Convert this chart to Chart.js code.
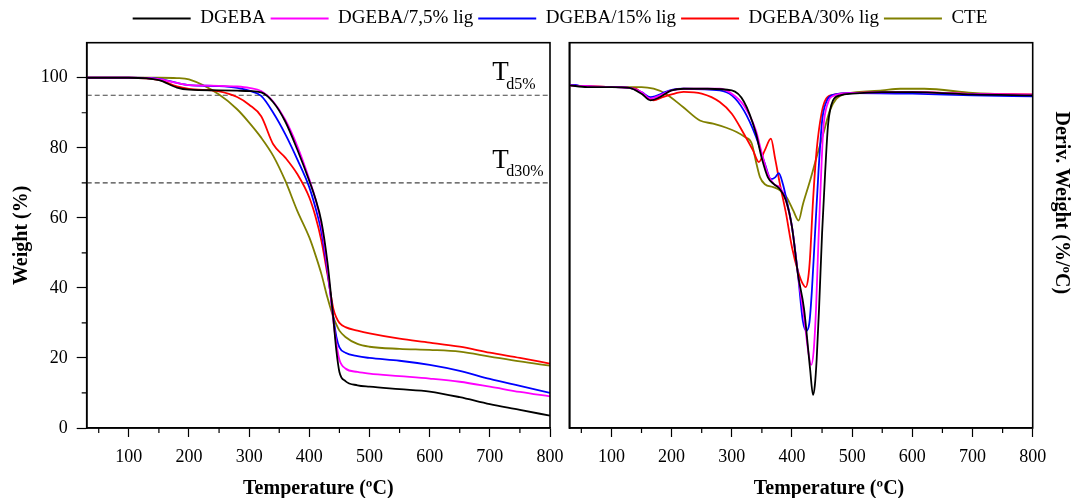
<!DOCTYPE html>
<html>
<head>
<meta charset="utf-8">
<script src="https://cdn.jsdelivr.net/npm/chart.js@4.4.1/dist/chart.umd.min.js"></script>
<style>
  html, body { margin: 0; padding: 0; background: #fff; }
  #wrap { position: relative; width: 1073px; height: 498px; overflow: hidden; }
  #tgaBox { position: absolute; left: 0; top: 0; }
  #dtgBox { position: absolute; left: 555px; top: 0; }
</style>
</head>
<body>
<div id="wrap">
  <div id="tgaBox"><canvas id="tgaChart" width="1120" height="498"></canvas></div>
  <div id="dtgBox"><canvas id="dtgChart" width="518" height="498"></canvas></div>
</div>
<script>
const FONT = "'Liberation Serif', 'Times New Roman', serif";

const seriesNames = ['DGEBA', 'DGEBA/7,5% lig', 'DGEBA/15% lig', 'DGEBA/30% lig', 'CTE'];
const seriesColors = ['#000000', '#ff00ff', '#0000ff', '#ff0000', '#808000'];

// TGA - peso (%) vs temperatura
const tgaTemp  = [30, 100, 150, 180, 200, 250, 280, 300, 320, 340, 360, 380, 400, 410, 420, 430, 440, 445, 450, 460, 480, 500, 550, 600, 650, 700, 750, 800];
const tgaDGEBA = [100, 100, 99.3, 97.2, 96.6, 96.4, 96.3, 96.2, 95.8, 93, 87.5, 79.5, 70.5, 65.5, 59, 47.5, 31, 22, 16, 13.4, 12.2, 11.8, 11.1, 10.4, 8.8, 6.8, 5.2, 3.5];
const tgaLig75 = [100, 100, 99.6, 98.5, 97.9, 97.7, 97.5, 97.1, 96.2, 93.2, 88, 80.5, 71, 65.5, 58, 46, 30.5, 24, 19.5, 17, 16, 15.5, 14.8, 14.1, 13.2, 11.8, 10.3, 9.0];
const tgaLig15 = [100, 100, 99.7, 98.5, 97.9, 97.6, 97.1, 96.3, 94.8, 90, 83.9, 76.7, 68.7, 63, 56, 45, 31.6, 26, 23, 21.5, 20.5, 20, 19.2, 18, 16.3, 14, 12, 10];
const tgaLig30 = [100, 100, 99.4, 97.5, 96.8, 96.1, 94.5, 92.3, 89, 81, 77.2, 72.5, 65.8, 60.5, 53.5, 44, 34, 31.5, 30, 28.8, 27.8, 27, 25.5, 24.4, 23.2, 21.5, 20, 18.4];
const tgaCTE   = [100, 100, 100, 99.9, 99.5, 95.2, 91, 87.2, 82.9, 77.7, 70.6, 62, 54.4, 49.5, 44, 37.3, 31.6, 29.5, 27.8, 26, 24, 23.2, 22.6, 22.3, 21.8, 20.4, 19, 17.8];

// DTG - derivada (%/ºC), cada serie com as suas temperaturas
const dtgTempDGEBA = [30, 60, 100, 130, 150, 165, 180, 200, 220, 260, 300, 320, 340, 350, 360, 370, 380, 390, 400, 410, 420, 430, 435, 438, 441, 445, 450, 455, 460, 468, 480, 500, 550, 600, 700, 800];
const dtgDGEBA     = [0.01, 0, 0, -0.005, -0.04, -0.078, -0.06, -0.02, -0.01, -0.01, -0.02, -0.085, -0.27, -0.42, -0.53, -0.57, -0.6, -0.665, -0.82, -1.1, -1.3, -1.65, -1.806, -1.75, -1.6, -1.3, -0.86, -0.51, -0.22, -0.08, -0.049, -0.039, -0.03, -0.03, -0.043, -0.049];
const dtgTempLig75 = [30, 100, 130, 150, 165, 180, 200, 220, 280, 300, 320, 340, 350, 360, 370, 380, 390, 400, 410, 420, 427, 432, 436, 440, 444, 448, 452, 460, 470, 480, 500, 600, 700, 800];
const dtgLig75     = [0.01, 0, -0.005, -0.03, -0.068, -0.05, -0.02, -0.01, -0.01, -0.039, -0.108, -0.254, -0.39, -0.51, -0.57, -0.59, -0.665, -0.82, -1.1, -1.35, -1.55, -1.63, -1.55, -1.3, -0.9, -0.55, -0.25, -0.09, -0.05, -0.04, -0.035, -0.03, -0.04, -0.045];
const dtgTempLig15 = [30, 40, 50, 100, 130, 150, 165, 190, 200, 220, 280, 300, 320, 340, 355, 365, 372, 378, 385, 390, 400, 410, 418, 424, 429, 433, 438, 444, 450, 458, 470, 500, 600, 700, 800];
const dtgLig15     = [0.01, 0.012, 0.005, 0, -0.005, -0.03, -0.059, -0.029, -0.016, -0.01, -0.02, -0.049, -0.137, -0.29, -0.45, -0.54, -0.53, -0.505, -0.57, -0.645, -0.82, -1.1, -1.37, -1.43, -1.38, -1.2, -0.88, -0.5, -0.2, -0.08, -0.045, -0.035, -0.039, -0.049, -0.055];
const dtgTempLig30 = [30, 100, 140, 155, 170, 185, 200, 220, 250, 280, 300, 320, 335, 345, 355, 365, 372, 380, 390, 400, 410, 418, 423, 427, 430, 435, 441, 449, 457, 470, 500, 600, 700, 800];
const dtgLig30     = [0.01, 0, -0.01, -0.05, -0.078, -0.06, -0.043, -0.029, -0.039, -0.088, -0.157, -0.274, -0.37, -0.44, -0.37, -0.303, -0.42, -0.57, -0.74, -0.94, -1.08, -1.155, -1.174, -1.12, -1.0, -0.665, -0.37, -0.157, -0.068, -0.045, -0.035, -0.03, -0.04, -0.043];
const dtgTempCTE   = [30, 100, 150, 170, 190, 219, 247, 269, 291, 308, 322, 333, 341, 347, 355, 369, 380, 391, 402, 411, 418, 430, 441, 452, 463, 474, 490, 550, 580, 620, 700, 800];
const dtgCTE       = [0.01, 0, 0, -0.01, -0.039, -0.117, -0.196, -0.215, -0.239, -0.264, -0.294, -0.33, -0.45, -0.53, -0.57, -0.587, -0.606, -0.646, -0.724, -0.783, -0.69, -0.55, -0.41, -0.274, -0.137, -0.068, -0.04, -0.02, -0.01, -0.01, -0.035, -0.049];

// linhas Td5% e Td30%
const tdLevels = [95, 70];
const tdNames = ['d5%', 'd30%'];

const tempTicks = [100, 200, 300, 400, 500, 600, 700, 800];
const tempMinorTicks = [50, 150, 250, 350, 450, 550, 650, 750];
const weightTicks = [0, 20, 40, 60, 80, 100];
const weightMinorTicks = [10, 30, 50, 70, 90];

Chart.defaults.font.family = FONT;
Chart.defaults.color = '#000';

function toPoints(xs, ys) {
    return xs.map((x, i) => ({ x: x, y: ys[i] }));
}

function curve(i, points) {
    return {
        label: seriesNames[i],
        data: points,
        borderColor: seriesColors[i],
        backgroundColor: seriesColors[i],
        borderWidth: 1.8,
        pointRadius: 0,
        cubicInterpolationMode: 'monotone',
        fill: false
    };
}

// moldura do painel + ticks menores
function frameTicks(minorY) {
    return {
        id: 'frameTicks',
        afterDraw(chart) {
            const { ctx, chartArea: a, scales } = chart;
            ctx.save();
            ctx.strokeStyle = '#000';
            ctx.lineWidth = 1.2;
            ctx.beginPath();
            tempMinorTicks.forEach(t => {
                const px = scales.x.getPixelForValue(t);
                ctx.moveTo(px, a.bottom);
                ctx.lineTo(px, a.bottom + 5);
            });
            minorY.forEach(w => {
                const py = scales.y.getPixelForValue(w);
                ctx.moveTo(a.left, py);
                ctx.lineTo(a.left - 5, py);
            });
            ctx.stroke();
            ctx.lineWidth = 1.6;
            ctx.strokeRect(a.left, a.top, a.right - a.left, a.bottom - a.top);
            ctx.restore();
        }
    };
}

// altura fixa para a legenda
const legendSpace = {
    id: 'legendSpace',
    beforeInit(chart) {
        const fitLegend = chart.legend.fit;
        chart.legend.fit = function () {
            fitLegend.call(this);
            this.height = 38.7;
        };
    }
};

// textos T d5% / T d30%
const tdLabels = {
    id: 'tdLabels',
    afterDatasetsDraw(chart) {
        const { ctx, scales: { x, y } } = chart;
        ctx.save();
        ctx.fillStyle = '#000';
        ctx.textAlign = 'left';
        ctx.textBaseline = 'alphabetic';
        tdLevels.forEach((lvl, i) => {
            const px = x.getPixelForValue(704);
            const py = y.getPixelForValue(lvl) - 15;
            ctx.font = '27px ' + FONT;
            ctx.fillText('T', px, py);
            const w = ctx.measureText('T').width;
            ctx.font = '16px ' + FONT;
            ctx.fillText(tdNames[i], px + w - 2.5, py + 8.5);
        });
        ctx.restore();
    }
};

const tickFont = { family: FONT, size: 18 };
const titleFont = { family: FONT, size: 20, weight: 'bold' };

function tempAxis(height, withTitle) {
    return {
        type: 'linear',
        position: 'bottom',
        min: 30,
        max: 800,
        afterBuildTicks: s => { s.ticks = tempTicks.map(v => ({ value: v })); },
        afterFit: s => { s.height = height; },
        grid: { display: true, drawOnChartArea: false, drawTicks: true, tickLength: 9, tickWidth: 1.2, tickColor: '#000' },
        border: { display: true, color: '#000', width: 1.6 },
        ticks: { font: tickFont, color: '#000', padding: 9, maxRotation: 0, autoSkip: false },
        title: { display: withTitle, text: 'Temperature (ºC)', font: titleFont, color: '#000', padding: { top: 0, bottom: -3 } }
    };
}

function dummyAxis(position, size, extra) {
    return Object.assign({
        type: 'linear',
        position: position,
        display: true,
        min: 0,
        max: 1,
        afterFit: s => {
            if (position === 'right') s.width = size; else s.height = size;
        },
        grid: { display: false },
        border: { display: false },
        ticks: { display: false }
    }, extra || {});
}

const tgaDatasets = [
    curve(0, toPoints(tgaTemp, tgaDGEBA)),
    curve(1, toPoints(tgaTemp, tgaLig75)),
    curve(2, toPoints(tgaTemp, tgaLig15)),
    curve(3, toPoints(tgaTemp, tgaLig30)),
    curve(4, toPoints(tgaTemp, tgaCTE))
];
tdLevels.forEach(lvl => {
    tgaDatasets.push({
        label: 'Td',
        data: [{ x: 30, y: lvl }, { x: 800, y: lvl }],
        borderColor: '#444',
        borderWidth: 1.2,
        borderDash: [5, 3],
        pointRadius: 0,
        fill: false
    });
});

new Chart(document.getElementById('tgaChart'), {
    type: 'line',
    data: { datasets: tgaDatasets },
    options: {
        responsive: false,
        animation: false,
        layout: { padding: { top: 4 } },
        plugins: {
            legend: {
                position: 'top',
                labels: {
                    usePointStyle: true,
                    pointStyle: 'line',
                    pointStyleWidth: 58,
                    padding: 5,
                    color: '#000',
                    font: { family: FONT, size: 19 },
                    filter: item => item.datasetIndex < 5
                }
            },
            tooltip: { enabled: false }
        },
        scales: {
            x: tempAxis(70, true),
            y: {
                type: 'linear',
                position: 'left',
                min: 0,
                max: 110,
                afterBuildTicks: s => { s.ticks = weightTicks.map(v => ({ value: v })); },
                afterFit: s => { s.width = 86.7; },
                grid: { display: true, drawOnChartArea: false, drawTicks: true, tickLength: 10, tickWidth: 1.2, tickColor: '#000' },
                border: { display: true, color: '#000', width: 1.6 },
                ticks: { font: tickFont, color: '#000', padding: 9 },
                title: { display: true, text: 'Weight (%)', font: titleFont, color: '#000', padding: { top: 10, bottom: 0 } }
            },
            side: dummyAxis('right', 1120 - 550)
        }
    },
    plugins: [legendSpace, frameTicks(weightMinorTicks), tdLabels]
});

const dtgDatasets = [
    curve(0, toPoints(dtgTempDGEBA, dtgDGEBA)),
    curve(1, toPoints(dtgTempLig75, dtgLig75)),
    curve(2, toPoints(dtgTempLig15, dtgLig15)),
    curve(3, toPoints(dtgTempLig30, dtgLig30)),
    curve(4, toPoints(dtgTempCTE, dtgCTE))
];

new Chart(document.getElementById('dtgChart'), {
    type: 'line',
    data: { datasets: dtgDatasets },
    options: {
        responsive: false,
        animation: false,
        layout: { padding: { top: 42.7 } },
        plugins: {
            legend: { display: false },
            tooltip: { enabled: false }
        },
        scales: {
            x: tempAxis(44, false),
            y: {
                type: 'linear',
                position: 'left',
                min: -2.0,
                max: 0.26,
                afterFit: s => { s.width = 14.3; },
                grid: { display: false },
                border: { display: true, color: '#000', width: 1.6 },
                ticks: { display: false }
            },
            yTop: dummyAxis('right', 40.3, {
                stack: 'rt', stackWeight: 320,
                title: { display: true, text: 'Deriv. Weight (%/ºC)', font: titleFont, color: '#000', padding: { top: 0, bottom: 0 } }
            }),
            yLow: dummyAxis('right', 40.3, { stack: 'rt', stackWeight: 65 }),
            xLead: dummyAxis('bottom', 26, { stack: 'bt', stackWeight: 56 }),
            xTitle: dummyAxis('bottom', 26, {
                stack: 'bt', stackWeight: 407.4,
                title: { display: true, text: 'Temperature (ºC)', font: titleFont, color: '#000', padding: { top: 0, bottom: -3 } }
            })
        }
    },
    plugins: [frameTicks([])]
});
</script>
</body>
</html>
